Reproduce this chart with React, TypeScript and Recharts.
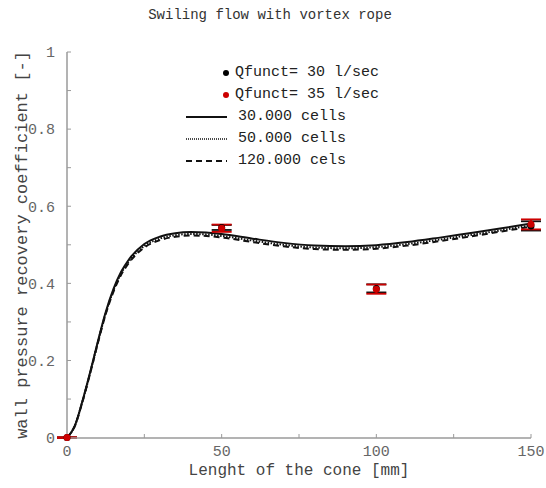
import { ComposedChart, Line, Scatter, ErrorBar, XAxis, YAxis, Legend } from 'recharts';

// 数値シミュレーション結果 (x: mm, y: 壁圧回復係数)
const xCone = [0, 2.5, 5, 7.5, 10, 12.5, 15, 17.5, 20, 25, 30, 35, 40, 45, 50, 60, 70, 80, 90, 100, 110, 120, 130, 140, 150];
const cells30k = [0, 0.03, 0.095, 0.17, 0.25, 0.325, 0.385, 0.43, 0.462, 0.502, 0.521, 0.53, 0.533, 0.532, 0.528, 0.516, 0.505, 0.498, 0.496, 0.499, 0.507, 0.518, 0.53, 0.542, 0.555];
const cells50k = [0, 0.03, 0.094, 0.168, 0.248, 0.322, 0.381, 0.426, 0.457, 0.497, 0.516, 0.525, 0.528, 0.527, 0.523, 0.511, 0.5, 0.493, 0.491, 0.494, 0.502, 0.513, 0.525, 0.537, 0.551];
const cells120k = [0, 0.03, 0.093, 0.167, 0.246, 0.32, 0.378, 0.422, 0.453, 0.493, 0.512, 0.521, 0.524, 0.523, 0.519, 0.507, 0.496, 0.489, 0.487, 0.49, 0.498, 0.509, 0.521, 0.534, 0.547];

// 実験値
const expX = [0, 50, 100, 150];
const q30 = [0, 0.545, 0.387, 0.549];
const q30Err = [0.001, 0.0065, 0.0105, 0.012];
const q35 = [0, 0.543, 0.385, 0.553];
const q35Err = [0.001, 0.0095, 0.012, 0.013];

// 軸目盛
const xTicks = [0, 25, 50, 75, 100, 125, 150];
const yTicks = [0, 0.1, 0.2, 0.3, 0.4, 0.5, 0.6, 0.7, 0.8, 0.9, 1];

const FONT = '"Liberation Mono", "DejaVu Sans Mono", monospace';
const AXIS = '#9a9a9a';

const toLine = (ys: number[]) => xCone.map((x, i) => ({ x, y: ys[i] }));
const toPoints = (ys: number[], errs: number[]) => expX.map((x, i) => ({ x, y: ys[i], err: errs[i] }));

const fmtX = (v: number) => (v % 50 === 0 ? String(v) : '');
const fmtY = (v: number) => {
  const k = Math.round(v * 10);
  if (k % 2 !== 0) return '';
  return k === 0 ? '0' : k === 10 ? '1' : (k / 10).toFixed(1);
};
const blank = () => '';

const dot = (color: string, r: number) => (p: any) => <circle cx={p.cx} cy={p.cy} r={r} fill={color} />;

function LegendBox() {
  const row = { display: 'flex', alignItems: 'center', height: 22 } as const;
  return (
    <div style={{ fontFamily: FONT, fontSize: 15, color: '#222', lineHeight: '22px' }}>
      <div style={row}>
        <svg width={50} height={22}><circle cx={46} cy={11} r={3} fill="#000" /></svg>
        <span style={{ marginLeft: 5 }}>Qfunct= 30 l/sec</span>
      </div>
      <div style={row}>
        <svg width={50} height={22}><circle cx={46} cy={11} r={3} fill="#cc0000" /></svg>
        <span style={{ marginLeft: 5 }}>Qfunct= 35 l/sec</span>
      </div>
      <div style={row}>
        <svg width={50} height={22}><line x1={6} x2={47} y1={11} y2={11} stroke="#111" strokeWidth={2} /></svg>
        <span style={{ marginLeft: 8 }}>30.000 cells</span>
      </div>
      <div style={row}>
        <svg width={50} height={22}><line x1={6} x2={47} y1={11} y2={11} stroke="#111" strokeWidth={1.5} strokeDasharray="1 1" /></svg>
        <span style={{ marginLeft: 8 }}>50.000 cells</span>
      </div>
      <div style={row}>
        <svg width={50} height={22}><line x1={6} x2={47} y1={11} y2={11} stroke="#111" strokeWidth={2} strokeDasharray="6 4" /></svg>
        <span style={{ marginLeft: 8 }}>120.000 cels</span>
      </div>
    </div>
  );
}

export default function App() {
  const tickStyle = { fontFamily: FONT, fontSize: 15, fill: '#666' };
  return (
    <div style={{ position: 'absolute', left: 0, top: 0, width: 546, height: 488, background: '#fff' }}>
      <div style={{ position: 'absolute', left: 0, top: 7, width: 540, textAlign: 'center', fontFamily: FONT, fontSize: 14, color: '#333' }}>
        Swiling flow with vortex rope
      </div>
      <ComposedChart width={546} height={488} margin={{ top: 52, right: 15, left: 0, bottom: 0 }}>
        <XAxis
          type="number" dataKey="x" domain={[0, 150]} ticks={xTicks} tickFormatter={fmtX}
          height={50} tickSize={-4} tickMargin={11} tick={tickStyle}
          axisLine={{ stroke: AXIS, strokeWidth: 1.5 }} tickLine={{ stroke: AXIS }}
          label={{ value: 'Lenght of the cone [mm]', position: 'insideBottom', offset: 13, style: { fontFamily: FONT, fontSize: 16, fill: '#444' } }}
        />
        <XAxis
          xAxisId="top" orientation="top" type="number" domain={[0, 150]} ticks={xTicks} tickFormatter={blank}
          height={0} tickSize={-4} axisLine={{ stroke: AXIS, strokeWidth: 1.5 }} tickLine={{ stroke: AXIS }}
        />
        <YAxis
          type="number" domain={[0, 1]} ticks={yTicks} tickFormatter={fmtY}
          width={67} tickSize={-4} tickMargin={16} tick={tickStyle}
          axisLine={{ stroke: AXIS, strokeWidth: 1.5 }} tickLine={{ stroke: AXIS }}
          label={{ value: 'wall pressure recovery coefficient [-]', angle: -90, position: 'insideLeft', offset: 21, style: { textAnchor: 'middle', fontFamily: FONT, fontSize: 17, fill: '#444' } }}
        />
        <YAxis
          yAxisId="right" orientation="right" type="number" domain={[0, 1]} ticks={yTicks} tickFormatter={blank}
          width={0} tickSize={-4} axisLine={{ stroke: AXIS, strokeWidth: 1.5 }} tickLine={{ stroke: AXIS }}
        />
        <Legend
          layout="vertical" verticalAlign="middle" align="center" content={() => <LegendBox />}
          wrapperStyle={{ left: 180, top: 62, width: 240, height: 110 }}
        />
        <Line data={toLine(cells120k)} dataKey="y" type="monotone" stroke="#111" strokeWidth={2} strokeDasharray="6 4" dot={false} isAnimationActive={false} />
        <Line data={toLine(cells50k)} dataKey="y" type="monotone" stroke="#111" strokeWidth={2} strokeDasharray="1.5 1.5" dot={false} isAnimationActive={false} />
        <Line data={toLine(cells30k)} dataKey="y" type="monotone" stroke="#111" strokeWidth={2} dot={false} isAnimationActive={false} />
        <Scatter data={toPoints(q30, q30Err)} dataKey="y" shape={dot('#000', 3.5)} isAnimationActive={false}>
          <ErrorBar dataKey="err" direction="y" width={10} stroke="#111" strokeWidth={1.8} isAnimationActive={false} />
        </Scatter>
        <Scatter data={toPoints(q35, q35Err)} dataKey="y" shape={dot('#cc0000', 3.5)} isAnimationActive={false}>
          <ErrorBar dataKey="err" direction="y" width={10} stroke="#cc0000" strokeWidth={1.8} isAnimationActive={false} />
        </Scatter>
      </ComposedChart>
    </div>
  );
}
